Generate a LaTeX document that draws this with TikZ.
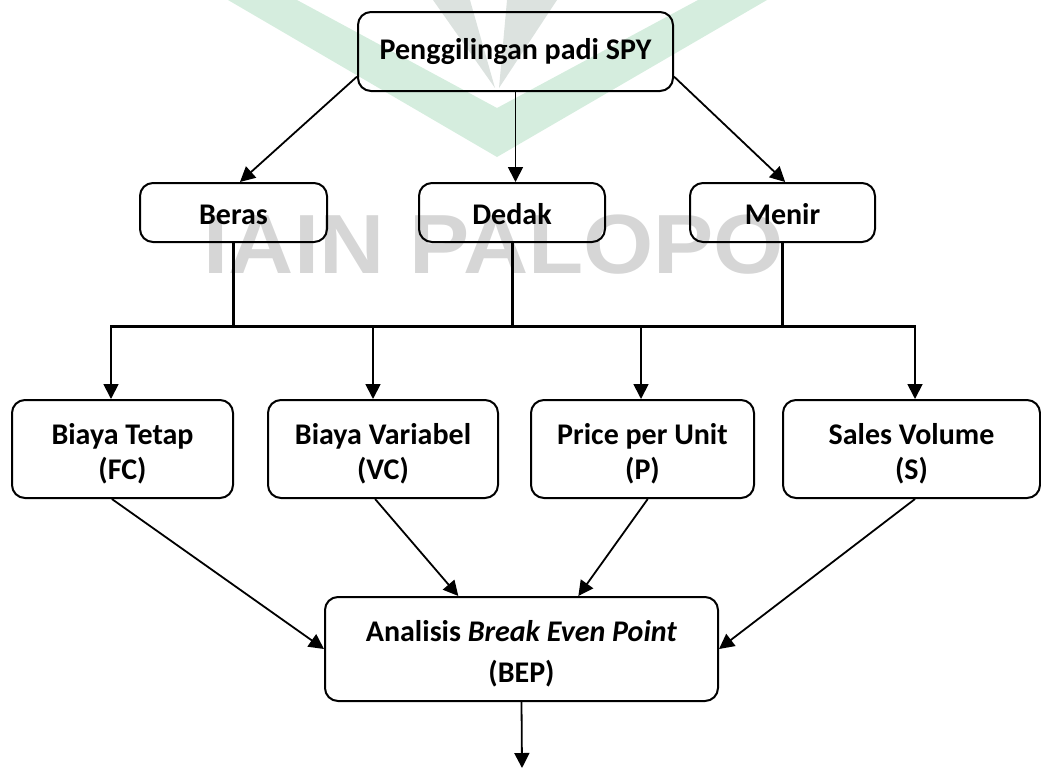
\documentclass[tikz,border=0pt]{standalone}
\usepackage{fontspec}
\setmainfont{Carlito}
\newfontfamily\wmfont{Liberation Sans}
\usetikzlibrary{arrows.meta,calc}
\definecolor{wmgreen}{HTML}{D5EDDE}
\definecolor{wmgray}{HTML}{DCE2DF}
\definecolor{wmtext}{HTML}{D6D6D6}
\newcommand{\dn}{\rule{0pt}{31pt}}
\tikzset{
  box/.style={draw, line width=2pt, rounded corners=13pt, inner sep=0pt, align=center,
    font=\bfseries\fontsize{30}{35}\selectfont},
  arr/.style={line width=1.8pt, -{Triangle[length=15pt,width=15pt]}},
  bus/.style={line width=3pt},
}
\begin{document}
\begin{tikzpicture}[x=1pt,y=-1pt]
\useasboundingbox (0,0) rectangle (1041,769);
% watermark
\fill[wmgreen] (228,0) -- (497,157) -- (767,0) -- (698,0) -- (497,108) -- (297,0) -- cycle;
\fill[wmgray] (433,0) -- (470,0) -- (495,88) -- cycle;
\fill[wmgray] (507,0) -- (557,0) -- (499,88) -- cycle;
\node[anchor=base, text=wmtext, font=\wmfont\bfseries\fontsize{84}{84}\selectfont, xscale=1.075, inner sep=0pt] (wm) at (494,273) {IAIN PALOPO};
% nodes
\node[box, minimum width=315pt, minimum height=79pt] (top) at (515.5,51.5) {Penggilingan padi SPY};
\node[box, minimum width=187pt, minimum height=59pt] (beras) at (233.5,212.5) {\rule{0pt}{25pt}Beras};
\node[box, minimum width=186pt, minimum height=59pt] (dedak) at (512,212.5) {\rule{0pt}{25pt}Dedak};
\node[box, minimum width=185pt, minimum height=59pt] (menir) at (782.5,212.5) {\rule{0pt}{25pt}Menir};
\node[box, minimum width=221pt, minimum height=98pt] (fc) at (122.5,449) {\dn Biaya Tetap\\(FC)};
\node[box, minimum width=230pt, minimum height=98pt] (vc) at (383,449) {\dn Biaya Variabel\\(VC)};
\node[box, minimum width=223pt, minimum height=98pt] (p) at (642.5,449) {\dn Price per Unit\\(P)};
\node[box, minimum width=257pt, minimum height=98pt] (s) at (911.5,449) {\dn Sales Volume\\(S)};
\node[box, minimum width=393pt, minimum height=104pt, font=\bfseries\fontsize{30}{41}\selectfont] (bep) at (521.5,649) {\dn Analisis \textit{Break Even Point}\\(BEP)};
% coordinates
\coordinate (busL) at (111,326);
\coordinate (busR) at (915,326);
\coordinate (vcb) at (373,326);
\coordinate (pb) at (641,326);
\coordinate (out) at (522,768);
% top connectors
\draw[arr] (top.189) -- (beras.78);
\draw[arr] (top.south) -- (dedak.north -| top.south);
\draw[arr] (top.351) -- (menir.85);
% bus
\draw[bus] (beras.south) -- (beras.south |- busL);
\draw[bus] (dedak.south) -- (dedak.south |- busL);
\draw[bus] (menir.south) -- (menir.south |- busL);
\draw[bus] ([xshift=-1pt]busL) -- ([xshift=1pt]busR);
\draw[arr] (busL) -- (busL |- fc.north);
\draw[arr] (vcb) -- (vcb |- vc.north);
\draw[arr] (pb) -- (pb |- p.north);
\draw[arr] (busR) -- (busR |- s.north);
% to BEP
\draw[arr] (fc.258) -- (bep.west);
\draw[arr] (vc.261) -- (bep.140);
\draw[arr] (p.-84) -- (bep.43);
\draw[arr] (s.-86) -- (bep.east);
\draw[arr] (bep.south) -- (out);
\end{tikzpicture}
\end{document}
